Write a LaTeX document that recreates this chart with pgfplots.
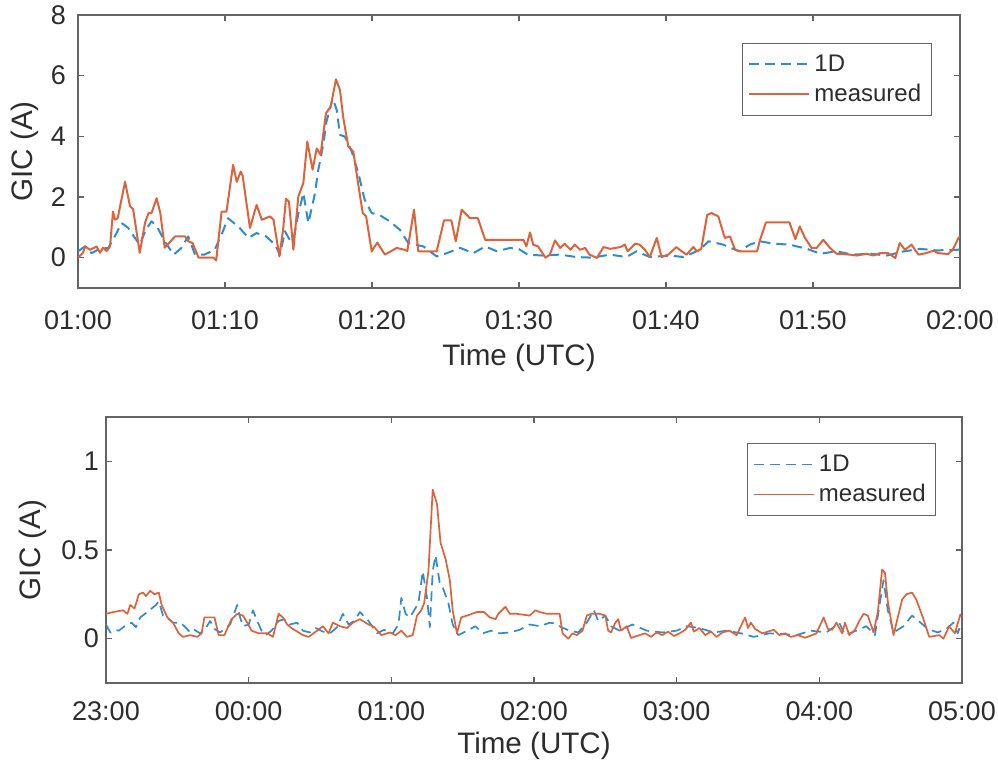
\documentclass[border=0pt]{standalone}
\usepackage{fontspec}
\setmainfont{Liberation Sans}
\usepackage{pgfplots}
\pgfplotsset{compat=1.18}

\definecolor{oneD}{RGB}{45,140,210}
\definecolor{meas}{RGB}{222,98,58}
\definecolor{framegray}{RGB}{100,100,100}
\definecolor{labelgray}{RGB}{45,45,45}

\pgfplotsset{
  gicaxis/.style={
    scale only axis,
    axis line style={draw=framegray, line width=0.8pt},
    tick style={draw=framegray, line width=0.8pt},
    tick align=inside,
    xtick pos=both, ytick pos=both,
    major tick length=3pt,
    ticklabel style={font=\fontsize{13.5}{16}\selectfont, text=labelgray},
    xticklabel style={anchor=center},
    label style={font=\fontsize{14.8}{17}\selectfont, text=labelgray},
    legend cell align=left,
    legend style={draw=framegray, line width=0.6pt,
      font=\fontsize{12}{14}\selectfont, text=labelgray,
      inner xsep=3pt, inner ysep=3pt,
      nodes={inner xsep=2pt, inner ysep=2.5pt}, row sep=0pt},
    legend image code/.code={\draw[##1] (0pt,0pt) -- (30pt,0pt);},
  },
  oned/.style={oneD, dash pattern=on 5pt off 3pt, line join=round},
  measured/.style={meas, solid, line join=round},
}

\begin{document}
\begin{tikzpicture}
\useasboundingbox (0,0) rectangle (499pt,382.5pt);

% ---- one hour of the storm, minutes after 01:00 UTC ----
\begin{axis}[gicaxis,
  at={(39pt,238.5pt)}, anchor=south west,
  width=441pt, height=136.5pt,
  xmin=0, xmax=60, ymin=-1, ymax=8,
  xtick={0,10,20,30,40,50,60},
  xticklabels={01:00,01:10,01:20,01:30,01:40,01:50,02:00},
  xticklabel style={yshift=-16pt},
  ytick={0,2,4,6,8}, yticklabels={0,2,4,6,8},
  yticklabel style={xshift=-2.5pt},
  xlabel={Time (UTC)}, ylabel={GIC (A)},
  xlabel style={at={(axis description cs:0.5,-0.256)}, anchor=center},
  ylabel style={at={(axis description cs:-0.0601,0.5)}, anchor=center},
  legend style={at={(0.968,0.897)}, anchor=north east},
]
\addplot[oned, line width=1pt] coordinates {
(0,0.21) (0.48,0.37) (0.93,0.15) (1.5,0.3) (2.06,0.32) (2.5,0.7) (2.97,1.14)
(3.42,0.98) (3.8,0.7) (4.2,0.43) (4.6,0.9) (5.0,1.2) (5.4,1.0) (5.9,0.54)
(6.5,0.1) (7.0,0.3) (7.5,0.7) (7.96,0.1) (8.6,0.1) (9.3,0.26) (9.8,0.8)
(10.2,1.3) (10.9,1.03) (11.6,0.65) (12.15,0.81) (12.8,0.7) (13.4,0.43)
(13.74,0.1) (14.08,0.87) (14.4,0.59) (14.65,0.59) (15.0,1.47) (15.33,2.13)
(15.67,1.14) (16.1,2.07) (16.35,2.9) (16.7,3.77) (16.9,4.48) (17.33,5.25)
(17.6,4.87) (17.82,4.05) (18.16,3.99) (18.62,3.5) (19.07,2.79) (19.5,1.91)
(19.98,1.47) (20.5,1.41) (21.2,1.2) (21.9,0.92) (22.47,0.48) (23.5,0.37)
(24.4,0.04) (25.1,0.15) (26.0,0.32) (26.9,0.15) (27.7,0.37) (28.5,0.21)
(29.4,0.32) (30.0,0.28) (30.6,0.1) (31.6,0.07) (32.8,0.1) (33.9,0.02)
(35.0,0) (36.2,0.1) (37.3,0.02) (38.0,0.21) (38.9,0.02) (40.3,0.07)
(41.2,0.02) (42.3,0.26) (42.9,0.54) (43.9,0.43) (44.4,0.32) (45.0,0.21)
(45.7,0.43) (46.4,0.54) (47.3,0.46) (48.4,0.43) (49.6,0.29) (50.5,0.13)
(51.6,0.21) (52.7,0.1) (53.9,0.13) (55.0,0.07) (56.1,0.2) (57.3,0.29)
(58.4,0.24) (59.8,0.26) (60,0.27)
};
\addlegendentry{1D}
\addplot[measured, line width=1pt] coordinates {
(0,0) (0.34,0.16) (0.48,0.37) (0.82,0.26) (1.27,0.37) (1.5,0.16) (1.7,0.33)
(1.95,0.22) (2.18,0.37) (2.38,1.52) (2.52,1.25) (2.7,1.3) (3.2,2.5)
(3.54,1.69) (3.75,1.6) (4.2,0.16) (4.56,1.15) (4.8,1.47) (5.0,1.47)
(5.35,1.96) (5.6,1.47) (5.9,0.33) (6.1,0.43) (6.6,0.7) (7.28,0.7) (7.5,0.54)
(7.8,0.48) (8.2,0) (9.2,0) (9.4,-0.09) (9.77,1.52) (10.1,1.52) (10.55,3.06)
(10.8,2.5) (11.07,2.84) (11.2,2.7) (11.7,0.98) (12.15,1.74) (12.5,1.25)
(13.06,1.36) (13.3,1.25) (13.7,0.04) (13.95,0.92) (14.15,1.94) (14.35,1.85)
(14.65,0.26) (14.99,2.02) (15.33,2.46) (15.6,3.83) (15.96,2.9) (16.24,3.6)
(16.5,3.39) (16.87,4.76) (17.19,4.98) (17.55,5.88) (17.82,5.53) (18.05,4.6)
(18.39,3.66) (18.73,3.5) (19.07,2.4) (19.37,1.47) (19.6,1.36) (19.98,0.21)
(20.36,0.5) (20.88,0.1) (21.68,0.32) (22.2,0.26) (22.4,0.22) (22.86,1.58)
(23.15,0.21) (24.4,0.21) (24.9,1.23) (25.4,1.23) (25.7,0.54) (26.1,1.58)
(26.67,1.3) (27.2,1.3) (27.7,0.59) (30.3,0.59) (30.5,0.37) (30.75,0.83)
(30.97,0.43) (31.3,0.37) (31.8,0) (32.1,0.1) (32.45,0.57) (32.8,0.32)
(33.1,0.46) (33.5,0.26) (33.8,0.43) (34.15,0.26) (34.5,0.32) (34.8,0.1)
(35.3,-0.01) (35.75,0.35) (36.2,0.29) (36.9,0.35) (37.2,0.43) (37.4,0.21)
(37.9,0.46) (38.2,0.43) (38.57,0.26) (38.9,0.02) (39.37,0.65) (39.7,0.02)
(40.16,0.1) (40.7,0.35) (41.07,0.21) (41.4,0.1) (41.86,0.35) (42.1,0.21)
(42.4,0.29) (42.8,1.41) (43.1,1.47) (43.56,1.36) (44.0,0.65) (44.35,0.7)
(44.7,0.26) (45.03,0.21) (46.2,0.21) (46.4,0.59) (46.8,1.16) (48.4,1.16)
(48.8,0.61) (49.1,1.03) (49.46,0.65) (49.9,0.32) (50.25,0.32) (50.7,0.59)
(51.16,0.32) (51.6,0.13) (52.5,0.1) (52.97,0.07) (53.65,0.13) (54.1,0.07)
(54.56,0.15) (55.1,0.15) (55.6,-0.01) (55.9,0.48) (56.26,0.26) (56.7,0.43)
(57.17,0.1) (57.7,0.15) (58.2,0.23) (58.5,0.15) (59.2,0.12) (59.5,0.26)
(59.9,0.65) (60,0.7)
};
\addlegendentry{measured}
\end{axis}

% ---- six hours, 23:00 to 05:00 UTC (hours after 23:00) ----
\begin{axis}[gicaxis,
  at={(53pt,41pt)}, anchor=south west,
  width=428pt, height=133pt,
  xmin=0, xmax=6, ymin=-0.25, ymax=1.25,
  xtick={0,1,2,3,4,5,6},
  xticklabels={23:00,00:00,01:00,02:00,03:00,04:00,05:00},
  xticklabel style={yshift=-14.3pt},
  ytick={0,0.5,1}, yticklabels={0,0.5,1},
  xlabel={Time (UTC)}, ylabel={GIC (A)},
  xlabel style={at={(axis description cs:0.5,-0.237)}, anchor=center},
  ylabel style={at={(axis description cs:-0.0853,0.5)}, anchor=center},
  legend style={at={(0.970,0.902)}, anchor=north east},
]
\addplot[oned, line width=0.85pt] coordinates {
(0,0.08) (0.03,0.035) (0.06,0.05) (0.09,0.045) (0.13,0.07) (0.18,0.09)
(0.21,0.065) (0.24,0.12) (0.29,0.15) (0.32,0.17) (0.35,0.19) (0.37,0.21)
(0.4,0.13) (0.44,0.11) (0.47,0.09) (0.52,0.09) (0.55,0.07) (0.59,0.035)
(0.62,0.05) (0.66,0.03) (0.7,0.06) (0.73,0.1) (0.76,0.055) (0.8,0.035)
(0.84,0.06) (0.87,0.08) (0.92,0.19) (0.94,0.12) (0.96,0.07) (1.0,0.08)
(1.03,0.16) (1.06,0.1) (1.09,0.045) (1.12,0.02) (1.16,0.045) (1.21,0.1)
(1.25,0.11) (1.29,0.08) (1.34,0.09) (1.38,0.045) (1.43,0.035) (1.47,0.06)
(1.52,0.04) (1.57,0.03) (1.62,0.065) (1.66,0.14) (1.7,0.08) (1.74,0.1)
(1.78,0.15) (1.84,0.1) (1.9,0.03) (1.95,0.05) (2.01,0.03) (2.05,0.08)
(2.07,0.23) (2.1,0.14) (2.13,0.12) (2.16,0.16) (2.19,0.2) (2.22,0.38)
(2.25,0.23) (2.27,0.065) (2.29,0.38) (2.31,0.47) (2.34,0.31) (2.36,0.29)
(2.4,0.2) (2.43,0.08) (2.47,0.02) (2.53,0.045) (2.59,0.07) (2.64,0.03)
(2.7,0.045) (2.76,0.03) (2.83,0.035) (2.9,0.05) (2.97,0.08) (3.04,0.07)
(3.11,0.09) (3.15,0.085) (3.19,0.065) (3.25,0.045) (3.31,0.035) (3.37,0.09)
(3.42,0.16) (3.45,0.1) (3.5,0.13) (3.54,0.07) (3.6,0.045) (3.69,0.08)
(3.79,0.045) (3.9,0.035) (4.0,0.045) (4.07,0.07) (4.16,0.06) (4.26,0.035)
(4.35,0.045) (4.45,0.03) (4.54,0.01) (4.65,0.03) (4.75,0.025) (4.84,0.02)
(4.94,0.045) (5.05,0.035) (5.14,0.09) (5.18,0.02) (5.26,0.045) (5.33,0.07)
(5.39,0.02) (5.42,0.18) (5.45,0.33) (5.48,0.16) (5.52,0.035) (5.59,0.07)
(5.65,0.13) (5.71,0.09) (5.76,0.055) (5.83,0.035) (5.89,0.055) (5.94,0.09)
(5.97,0.03) (6.0,0.1)
};
\addlegendentry{1D}
\addplot[measured, line width=0.85pt] coordinates {
(0,0.14) (0.05,0.15) (0.12,0.16) (0.15,0.14) (0.17,0.19) (0.2,0.17)
(0.23,0.25) (0.26,0.26) (0.28,0.24) (0.31,0.27) (0.34,0.25) (0.37,0.26)
(0.39,0.19) (0.43,0.12) (0.47,0.09) (0.51,0.03) (0.54,0.01) (0.59,0.02)
(0.64,0.01) (0.67,0.03) (0.69,0.12) (0.76,0.12) (0.79,0.02) (0.83,0.02)
(0.88,0.11) (0.92,0.14) (0.96,0.13) (0.99,0.09) (1.02,0.045) (1.07,0.03)
(1.13,0.03) (1.17,0.01) (1.21,0.14) (1.24,0.12) (1.27,0.08) (1.3,0.06)
(1.34,0.04) (1.38,0.02) (1.42,0.01) (1.48,0.045) (1.52,0.07) (1.56,0.03)
(1.59,0.09) (1.64,0.07) (1.69,0.06) (1.73,0.09) (1.78,0.11) (1.84,0.08)
(1.88,0.065) (1.93,0.02) (1.99,0.035) (2.03,0.02) (2.07,0.045) (2.11,0.01)
(2.15,0.02) (2.18,0.13) (2.21,0.16) (2.23,0.2) (2.26,0.38) (2.29,0.84)
(2.32,0.76) (2.345,0.54) (2.38,0.45) (2.41,0.33) (2.43,0.16) (2.46,0.03)
(2.49,0.12) (2.53,0.13) (2.6,0.15) (2.65,0.15) (2.69,0.12) (2.73,0.11)
(2.75,0.14) (2.8,0.18) (2.83,0.14) (2.88,0.14) (2.97,0.13) (3.01,0.16)
(3.04,0.15) (3.09,0.14) (3.18,0.14) (3.2,0.03) (3.24,0) (3.27,0.03)
(3.3,0.02) (3.34,0.045) (3.37,0.13) (3.4,0.14) (3.46,0.14) (3.5,0.13)
(3.52,0.045) (3.54,0.035) (3.57,0.09) (3.59,0.11) (3.61,0.045) (3.65,0.07)
(3.68,0.004) (3.74,0.02) (3.78,0.03) (3.82,0.01) (3.86,0.035) (3.9,0.02)
(3.94,0.04) (3.98,0.015) (4.02,0.03) (4.06,0.05) (4.1,0.09) (4.12,0.04)
(4.16,0.06) (4.2,0.02) (4.24,0.04) (4.28,0.01) (4.32,0.035) (4.37,0.045)
(4.42,0.02) (4.48,0.12) (4.5,0.06) (4.52,0.09) (4.55,0.055) (4.6,0.03)
(4.64,0.04) (4.68,0.05) (4.72,0.02) (4.76,0.03) (4.8,0.01) (4.85,0.02)
(4.9,0.005) (4.95,0.02) (4.98,0.03) (5.03,0.12) (5.06,0.055) (5.09,0.05)
(5.12,0.09) (5.16,0.03) (5.18,0.09) (5.21,0.02) (5.25,0.05) (5.28,0.1)
(5.31,0.14) (5.34,0.13) (5.38,0.035) (5.41,0.15) (5.44,0.39) (5.46,0.37)
(5.48,0.21) (5.52,0.02) (5.55,0.12) (5.58,0.22) (5.61,0.25) (5.65,0.26)
(5.68,0.22) (5.73,0.11) (5.77,0.01) (5.84,0.02) (5.87,0) (5.91,0.07)
(5.95,0.03) (5.99,0.14)
};
\addlegendentry{measured}
\end{axis}
\end{tikzpicture}
\end{document}
